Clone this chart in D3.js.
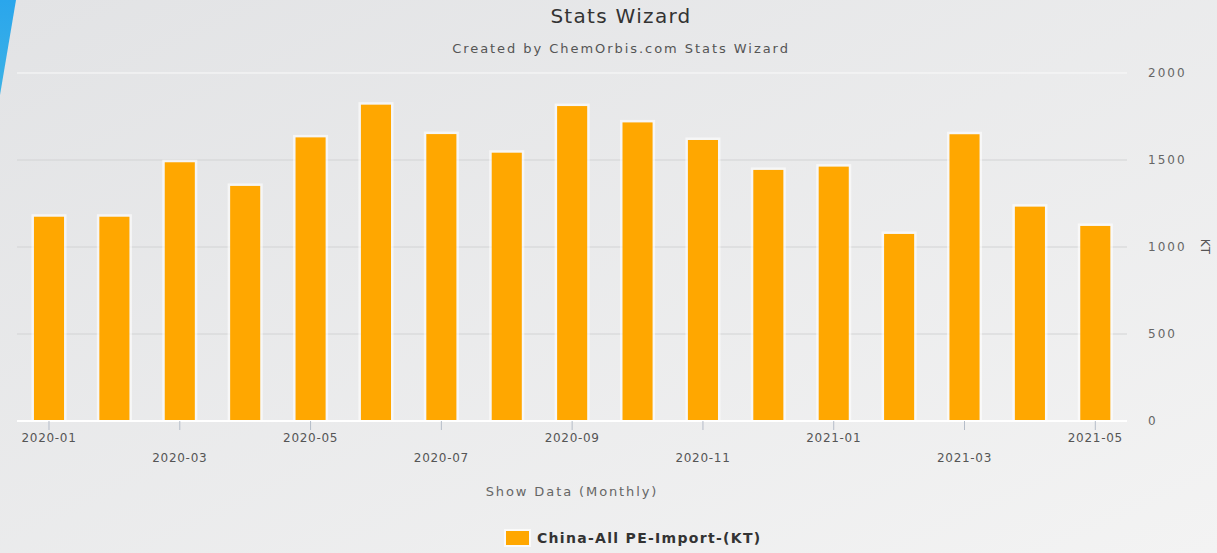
<!DOCTYPE html>
<html>
<head>
<meta charset="utf-8">
<script src="https://cdn.jsdelivr.net/npm/d3@7"></script>
<style>
  body { margin: 0; overflow: hidden; }
  svg { display: block; font-family: "DejaVu Sans", Verdana, sans-serif; }
</style>
</head>
<body>
<div class="chart"></div>
<script>
var svgWidth = 1217;
var svgHeight = 553;

// data
var months = ["2020-01", "2020-02", "2020-03", "2020-04", "2020-05", "2020-06",
  "2020-07", "2020-08", "2020-09", "2020-10", "2020-11", "2020-12",
  "2021-01", "2021-02", "2021-03", "2021-04", "2021-05"];
var imports = [1174, 1174, 1487, 1351, 1630, 1818, 1649, 1542, 1810,
  1716, 1615, 1443, 1462, 1075, 1648, 1232, 1121];
var yTicks = [0, 500, 1000, 1500, 2000];
var xTicks = ["2020-01", "2020-03", "2020-05", "2020-07", "2020-09",
  "2020-11", "2021-01", "2021-03", "2021-05"];
var seriesName = "China-All PE-Import-(KT)";

var plot = { left: 16.3, right: 1128, top: 73, bottom: 421 };

var svg = d3.select(".chart")
  .append("svg")
  .attr("width", svgWidth)
  .attr("height", svgHeight);

// background gradient
var defs = svg.append("defs");
var bg = defs.append("linearGradient").attr("id", "bg")
  .attr("x1", "0%").attr("y1", "0%").attr("x2", "100%").attr("y2", "100%");
bg.append("stop").attr("offset", "0%").attr("stop-color", "#e2e3e5");
bg.append("stop").attr("offset", "100%").attr("stop-color", "#f3f3f3");

var blue = defs.append("linearGradient").attr("id", "blue")
  .attr("x1", "0%").attr("y1", "0%").attr("x2", "0%").attr("y2", "100%");
blue.append("stop").attr("offset", "0%").attr("stop-color", "#2aa6ec");
blue.append("stop").attr("offset", "100%").attr("stop-color", "#3cb2e6");

svg.append("rect")
  .attr("width", svgWidth)
  .attr("height", svgHeight)
  .attr("fill", "url(#bg)");

svg.append("polygon")
  .attr("points", "0,0 16,0 0,95")
  .attr("fill", "url(#blue)");

// scales
var xScale = d3.scaleBand()
  .domain(months)
  .range([plot.left, plot.right])
  .paddingInner(0.54)
  .paddingOuter(0.27);

var yScale = d3.scaleLinear()
  .domain([0, 2000])
  .range([plot.bottom, plot.top]);

// gridlines
svg.append("g")
  .selectAll("line")
  .data(yTicks.filter(d => d > 0))
  .enter()
  .append("line")
  .attr("x1", 17)
  .attr("x2", 1127)
  .attr("y1", d => yScale(d))
  .attr("y2", d => yScale(d))
  .attr("stroke", d => d === 2000 ? "#fafafa" : "#d2d3d4")
  .attr("stroke-width", 1);

// bars with the white halo seen in the picture
var barGroup = svg.append("g");

barGroup.selectAll(".halo")
  .data(imports)
  .enter()
  .append("rect")
  .attr("class", "halo")
  .attr("x", (d, i) => xScale(months[i]) - 2.5)
  .attr("y", d => yScale(d) - 2.5)
  .attr("width", xScale.bandwidth() + 5)
  .attr("height", d => plot.bottom - yScale(d) + 2.5)
  .attr("fill", "#ffffff")
  .attr("opacity", 0.6);

barGroup.selectAll(".bar")
  .data(imports)
  .enter()
  .append("rect")
  .attr("class", "bar")
  .attr("x", (d, i) => xScale(months[i]))
  .attr("y", d => yScale(d))
  .attr("width", xScale.bandwidth())
  .attr("height", d => plot.bottom - yScale(d))
  .attr("fill", "#ffa700");

// x axis
var bottomAxis = d3.axisBottom(xScale)
  .tickValues(xTicks)
  .tickSize(9)
  .tickFormat(d => d);

var xAxis = svg.append("g")
  .attr("transform", `translate(0, ${plot.bottom})`)
  .call(bottomAxis);

xAxis.select(".domain")
  .attr("d", `M17,0H1127`)
  .attr("stroke", "#ffffff")
  .attr("stroke-width", 2);

xAxis.selectAll(".tick line")
  .attr("stroke", "#b4bcc8");

xAxis.selectAll(".tick text")
  .attr("y", (d, i) => i % 2 === 0 ? 12 : 32)
  .attr("dy", "0.71em")
  .attr("fill", "#555")
  .style("font-size", "12px")
  .style("letter-spacing", "0.7px")
  .style("font-family", "DejaVu Sans, sans-serif");

// y axis (right side)
var rightAxis = d3.axisRight(yScale)
  .tickValues(yTicks)
  .tickSize(0)
  .tickPadding(20)
  .tickFormat(d3.format("d"));

var yAxis = svg.append("g")
  .attr("transform", `translate(1128, 0)`)
  .call(rightAxis);

yAxis.select(".domain").remove();

yAxis.selectAll(".tick text")
  .attr("fill", "#666")
  .style("font-size", "12px")
  .style("letter-spacing", "2px")
  .style("font-family", "DejaVu Sans, sans-serif");

svg.append("text")
  .attr("transform", `translate(1201, ${yScale(1000)}) rotate(90)`)
  .attr("text-anchor", "middle")
  .attr("fill", "#555")
  .style("font-size", "12px")
  .style("letter-spacing", "1px")
  .text("KT");

// titles
svg.append("text")
  .attr("x", 621)
  .attr("y", 23)
  .attr("text-anchor", "middle")
  .attr("fill", "#333")
  .style("font-size", "20px")
  .style("letter-spacing", "1.3px")
  .text("Stats Wizard");

svg.append("text")
  .attr("x", 621)
  .attr("y", 53)
  .attr("text-anchor", "middle")
  .attr("fill", "#555")
  .style("font-size", "13px")
  .style("letter-spacing", "1.95px")
  .text("Created by ChemOrbis.com Stats Wizard");

svg.append("text")
  .attr("x", 572)
  .attr("y", 496)
  .attr("text-anchor", "middle")
  .attr("fill", "#666")
  .style("font-size", "13px")
  .style("letter-spacing", "1.9px")
  .text("Show Data (Monthly)");

// legend
var legend = svg.append("g")
  .attr("transform", "translate(506, 531)");

legend.append("rect")
  .attr("x", -2)
  .attr("y", -2)
  .attr("width", 27)
  .attr("height", 18)
  .attr("fill", "#ffffff")
  .attr("opacity", 0.7);

legend.append("rect")
  .attr("width", 23)
  .attr("height", 14)
  .attr("fill", "#ffa700");

legend.append("text")
  .attr("x", 31)
  .attr("y", 12)
  .attr("fill", "#333")
  .style("font-size", "14px")
  .style("font-weight", "bold")
  .style("letter-spacing", "1.3px")
  .text(seriesName);
</script>
</body>
</html>
